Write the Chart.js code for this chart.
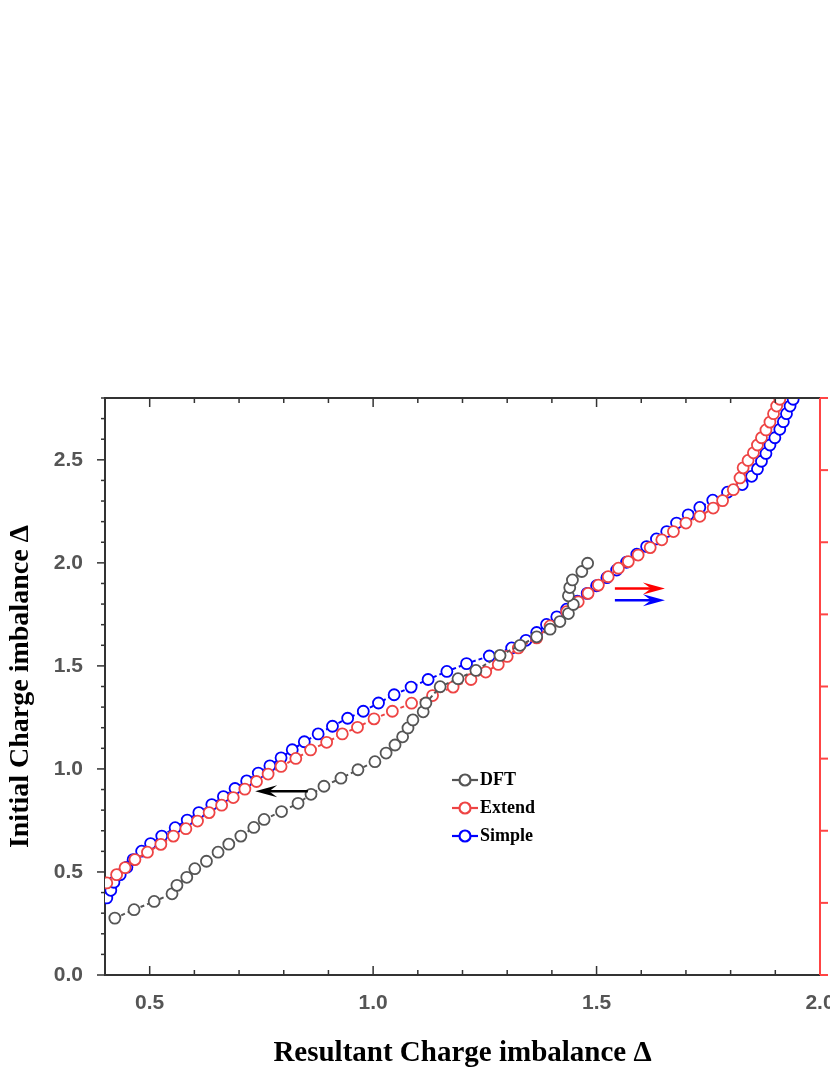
<!DOCTYPE html>
<html>
<head>
<meta charset="utf-8">
<script src="https://cdn.jsdelivr.net/npm/chart.js@4"></script>
<style>
body{margin:0;background:#fff;}
#wrap{position:relative;width:830px;height:1075px;overflow:hidden;}
#c{position:absolute;left:0;top:0;}
.leg{position:absolute;left:480px;font:bold 18px "Liberation Serif",serif;color:#000;}
</style>
</head>
<body>
<div id="wrap">
<canvas id="c" width="900" height="1075"></canvas>
<div class="leg" style="top:769px">DFT</div>
<div class="leg" style="top:797px">Extend</div>
<div class="leg" style="top:825px">Simple</div>
</div>
<script>
// DFT curve (goes back on itself around 1.44)
let dftX = [0.422,0.465,0.51,0.55,0.561,0.583,0.601,0.627,0.653,0.677,0.704,0.733,0.756,0.795,0.832,0.861,0.890,0.928,0.966,1.004,1.029,1.049,1.066,1.078,1.089,1.112,1.118,1.15,1.19,1.23,1.284,1.329,1.366,1.396,1.418,1.437,1.448,1.437,1.440,1.446,1.467,1.48];
let dftY = [0.276,0.317,0.357,0.394,0.435,0.474,0.516,0.552,0.596,0.635,0.674,0.716,0.755,0.793,0.833,0.877,0.916,0.955,0.996,1.035,1.077,1.116,1.156,1.199,1.238,1.277,1.32,1.399,1.438,1.478,1.551,1.6,1.641,1.678,1.715,1.754,1.798,1.84,1.88,1.917,1.958,1.998];

let extX = [0.404,0.426,0.445,0.467,0.495,0.525,0.553,0.581,0.607,0.633,0.661,0.687,0.713,0.739,0.765,0.794,0.827,0.860,0.896,0.931,0.965,1.002,1.043,1.086,1.133,1.179,1.219,1.252,1.28,1.30,1.325,1.366,1.396,1.433,1.459,1.481,1.504,1.526,1.549,1.571,1.593,1.62,1.646,1.672,1.7,1.731,1.761,1.782,1.806,1.821,1.828,1.839,1.851,1.86,1.869,1.879,1.888,1.896,1.903,1.91,1.918];
let extY = [0.447,0.487,0.521,0.560,0.596,0.634,0.674,0.710,0.747,0.788,0.824,0.861,0.902,0.939,0.975,1.012,1.051,1.092,1.129,1.17,1.202,1.243,1.28,1.319,1.356,1.397,1.434,1.47,1.507,1.546,1.587,1.636,1.694,1.763,1.811,1.852,1.892,1.933,1.974,2.006,2.038,2.074,2.112,2.152,2.193,2.226,2.266,2.302,2.355,2.412,2.461,2.497,2.534,2.572,2.607,2.645,2.683,2.724,2.761,2.794,2.84];

let simX = [0.404,0.413,0.42,0.434,0.449,0.463,0.482,0.502,0.527,0.557,0.584,0.61,0.639,0.665,0.691,0.717,0.743,0.769,0.794,0.819,0.846,0.877,0.909,0.943,0.978,1.012,1.047,1.085,1.123,1.165,1.209,1.26,1.31,1.342,1.366,1.388,1.411,1.433,1.457,1.479,1.5,1.523,1.545,1.567,1.59,1.612,1.634,1.657,1.679,1.705,1.731,1.76,1.793,1.826,1.847,1.86,1.869,1.879,1.888,1.899,1.91,1.918,1.925,1.933,1.94,1.947];
let simY = [0.374,0.411,0.45,0.487,0.523,0.56,0.601,0.638,0.674,0.715,0.752,0.788,0.827,0.866,0.905,0.942,0.98,1.015,1.054,1.093,1.132,1.17,1.207,1.246,1.28,1.32,1.36,1.397,1.434,1.473,1.511,1.548,1.587,1.624,1.662,1.701,1.738,1.775,1.814,1.852,1.889,1.928,1.965,2.003,2.042,2.079,2.116,2.152,2.193,2.233,2.269,2.304,2.343,2.38,2.42,2.456,2.493,2.531,2.572,2.607,2.648,2.685,2.724,2.761,2.794,2.83];

let xTickLabels = [0.5,1.0,1.5,2.0];
let yTickLabels = [0,0.5,1.0,1.5,2.0,2.5];
// arrows: [x1,y1,x2,y2,color]
let arrows = [[0.854,0.892,0.736,0.892,'#000'],[1.541,1.876,1.653,1.876,'#ff0000'],[1.541,1.818,1.653,1.818,'#0000ff']];

function pts(xs,ys){ return xs.map((x,i)=>({x:x,y:ys[i]})); }
function ds(label,xs,ys,color){
    return {label:label,data:pts(xs,ys),borderColor:color,backgroundColor:'#fff',
        showLine:true,borderWidth:2,borderDash:[4,3],pointRadius:5.5,pointBorderWidth:1.8,
        pointBorderColor:color,pointBackgroundColor:'#fff',clip:{left:0,top:0,right:0,bottom:0}};
}

let tickFont = {family:'"Liberation Sans",Arial,sans-serif',size:21,weight:'bold'};
let titleFont = {family:'"Liberation Serif","Times New Roman",serif',size:29,weight:'bold'};
let yTitleFont = {family:'"Liberation Serif","Times New Roman",serif',size:28,weight:'bold'};

const extras = {
    id:'extras',
    afterDraw(chart){
        const c = chart.ctx, xs = chart.scales.x, ys = chart.scales.y, a = chart.chartArea;
        c.save();
        c.lineWidth = 1.5;
        c.strokeStyle = '#333';
        for(let i=0;i<=28;i++){
            let v = i/10, py = ys.getPixelForValue(v), major = i%5===0;
            c.beginPath(); c.moveTo(a.left,py); c.lineTo(a.left-(major?8:4),py); c.stroke();
        }
        for(let i=4;i<=20;i++){
            let v = i/10, px = xs.getPixelForValue(v), major = i%5===0;
            c.beginPath(); c.moveTo(px,a.top); c.lineTo(px,a.top+(major?9:5)); c.stroke();
            c.beginPath(); c.moveTo(px,a.bottom); c.lineTo(px,a.bottom-(major?9:5)); c.stroke();
        }
        c.lineWidth = 2;
        c.beginPath(); c.moveTo(a.left,a.top); c.lineTo(a.right,a.top); c.stroke();
        c.strokeStyle = '#ff4444';
        c.beginPath(); c.moveTo(a.right,a.top); c.lineTo(a.right,a.bottom); c.stroke();
        for(let i=0;i<=8;i++){
            let py = a.bottom-(a.bottom-a.top)*i/8;
            c.beginPath(); c.moveTo(a.right,py); c.lineTo(a.right+8,py); c.stroke();
        }
        arrows.forEach(ar=>{
            let x1=xs.getPixelForValue(ar[0]), y1=ys.getPixelForValue(ar[1]);
            let x2=xs.getPixelForValue(ar[2]), y2=ys.getPixelForValue(ar[3]);
            let d = Math.sign(x2-x1);
            c.strokeStyle = ar[4]; c.fillStyle = ar[4]; c.lineWidth = 2.5;
            c.beginPath(); c.moveTo(x1,y1); c.lineTo(x2-d*10,y2); c.stroke();
            c.beginPath(); c.moveTo(x2,y2); c.lineTo(x2-d*22,y2-6); c.lineTo(x2-d*14,y2); c.lineTo(x2-d*22,y2+6); c.closePath(); c.fill();
        });
        // legend marks
        [['#555',780],['#ee4444',808],['#0000ff',836]].forEach(l=>{
            c.strokeStyle = l[0]; c.lineWidth = 2.2;
            c.beginPath(); c.moveTo(452,l[1]); c.lineTo(478,l[1]); c.stroke();
            c.beginPath(); c.arc(465,l[1],5.5,0,Math.PI*2); c.fillStyle='#fff'; c.fill(); c.stroke();
        });
        c.restore();
    }
};

new Chart(document.getElementById('c'),{
    type:'scatter',
    data:{datasets:[ds('DFT',dftX,dftY,'#555555'),ds('Extend',extX,extY,'#ee4444'),ds('Simple',simX,simY,'#0000ff')]},
    options:{
        responsive:false,animation:false,
        layout:{padding:{top:398,left:0,right:0,bottom:0}},
        plugins:{legend:{display:false},tooltip:{enabled:false}},
        scales:{
            x:{type:'linear',min:0.4,max:2.0,
                afterBuildTicks(s){ s.ticks = xTickLabels.map(v=>({value:v})); },
                afterFit(s){ s.height = 100; },
                grid:{display:false},border:{display:true,color:'#333',width:2},
                ticks:{font:tickFont,color:'#555',padding:8,callback:v=>v.toFixed(1)},
                title:{display:true,text:'Resultant Charge imbalance Δ',font:titleFont,color:'#000',padding:{top:16}}},
            y:{type:'linear',min:0,max:2.8,
                afterBuildTicks(s){ s.ticks = yTickLabels.map(v=>({value:v})); },
                afterFit(s){ s.width = 105; },
                grid:{display:false},border:{display:true,color:'#333',width:2},
                ticks:{font:tickFont,color:'#555',padding:14,callback:v=>v.toFixed(1)},
                title:{display:true,text:'Initial Charge imbalance Δ',font:yTitleFont,color:'#000',padding:{bottom:8}}},
            y2:{type:'linear',position:'right',min:0,max:8,
                afterFit(s){ s.width = 80; },
                grid:{display:false},border:{display:false},ticks:{display:false}}
        }
    },
    plugins:[extras]
});
</script>
</body>
</html>
